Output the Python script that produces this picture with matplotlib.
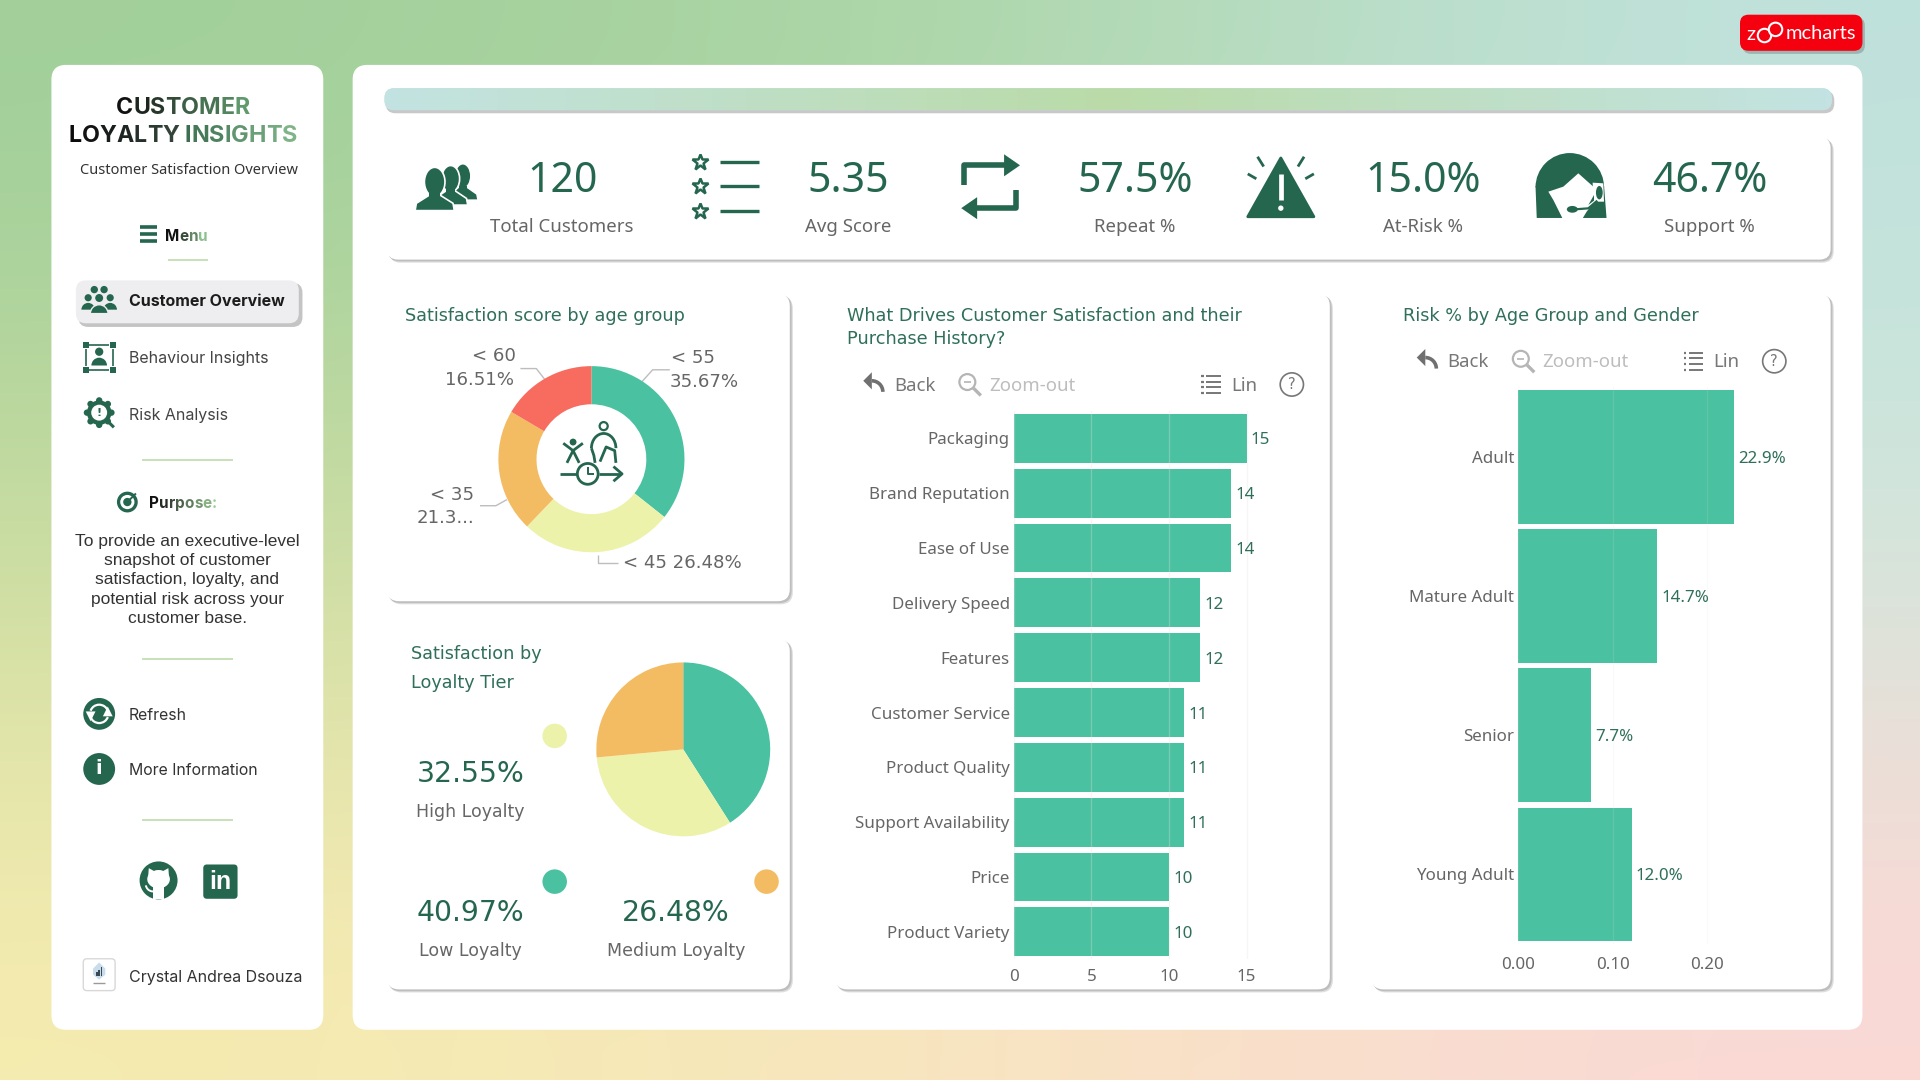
import numpy as np
import matplotlib
matplotlib.use("Agg")
import matplotlib.pyplot as plt
from matplotlib.patches import FancyBboxPatch, Circle, Ellipse, Polygon, Wedge, Rectangle, Arc
from matplotlib.colors import LinearSegmentedColormap, to_rgb

# chart values
age_groups = ["< 55", "< 45", "< 35", "< 60"]
age_scores = [35.67, 26.48, 21.34, 16.51]
loyalty_tiers = ["Low Loyalty", "High Loyalty", "Medium Loyalty"]
loyalty_scores = [40.97, 32.55, 26.48]
drivers = ["Packaging", "Brand Reputation", "Ease of Use", "Delivery Speed", "Features",
           "Customer Service", "Product Quality", "Support Availability", "Price", "Product Variety"]
driver_counts = [15, 14, 14, 12, 12, 11, 11, 11, 10, 10]
risk_groups = ["Adult", "Mature Adult", "Senior", "Young Adult"]
risk_share = [0.229, 0.147, 0.077, 0.120]
kpi_values = ["120", "5.35", "57.5%", "15.0%", "46.7%"]
kpi_labels = ["Total Customers", "Avg Score", "Repeat %", "At-Risk %", "Support %"]
purpose_lines = ["To provide an executive-level", "snapshot of customer", "satisfaction, loyalty, and",
                 "potential risk across your", "customer base."]

GREEN = "#4AC1A0"
YELLOW = "#EDF2AA"
ORANGE = "#F3BC63"
RED = "#F76C5E"
DK = "#25664F"
GREY = "#666666"
TITLE = "#2F6F5B"
W, H = 1568, 882  # layout is measured in these units, saved at 1920x1080

fig = plt.figure(figsize=(19.2, 10.8), dpi=100)
bg = fig.add_axes([0, 0, 1, 1], zorder=0)
bg.set_xlim(0, W)
bg.set_ylim(H, 0)
bg.axis("off")
rend = fig.canvas.get_renderer()


def axes_at(x0, y0, x1, y1):
    ax = fig.add_axes([x0 / W, 1 - y1 / H, (x1 - x0) / W, (y1 - y0) / H], zorder=2)
    ax.patch.set_alpha(0)
    return ax


def rbox(x0, y0, x1, y1, r=8, color="white", z=1, **kw):
    p = FancyBboxPatch((x0, y0), x1 - x0, y1 - y0, boxstyle=f"round,pad=0,rounding_size={r}",
                       fc=color, ec=kw.pop("ec", "none"), zorder=z, **kw)
    bg.add_patch(p)
    return p


def card(x0, y0, x1, y1, r=10):
    rbox(x0 + 2, y0 + 2, x1 + 2.5, y1 + 2.5, r, "#DEDEDE", 2)
    rbox(x0 + 1, y0 + 1, x1 + 1.5, y1 + 1.5, r, "#BEBEBE", 2)
    rbox(x0, y0, x1, y1, r, "white", 2.1)


def txt(x, y, s, size=11, color=GREY, ha="center", family="DejaVu Sans", weight="normal", z=5):
    return bg.text(x, y + 1, s, fontsize=size, color=color, ha=ha, va="center",
                   family=family, weight=weight, zorder=z)


def grad_text(x, y, s, size, c0, c1, family="Inter", weight="bold"):
    # one text per letter so the colour can run along the word
    c0, c1 = np.array(to_rgb(c0)), np.array(to_rgb(c1))
    for i, ch in enumerate(s):
        pre = s[:i]
        dx = 0
        if pre:
            t = txt(0, 0, pre, size, family=family, weight=weight)
            dx = t.get_window_extent(rend).width * W / 1920
            t.remove()
        f = i / max(len(s) - 1, 1)
        txt(x + dx, y, ch, size, c0 + (c1 - c0) * f, "left", family, weight)


def line(xs, ys, color=DK, lw=2, z=5, **kw):
    bg.plot(xs, ys, color=color, lw=lw, zorder=z, solid_capstyle=kw.pop("cap", "butt"), **kw)


def poly(pts, color=DK, z=5, **kw):
    bg.add_patch(Polygon(pts, closed=True, fc=color, ec=kw.pop("ec", "none"), zorder=z, **kw))


def circ(x, y, r, color=DK, z=5, **kw):
    bg.add_patch(Circle((x, y), r, fc=color, ec=kw.pop("ec", "none"), zorder=z, **kw))


def person(x, y, s=1.0, z=5, color=DK, ec="none"):
    circ(x, y - 9 * s, 4.5 * s, color, z, lw=1, ec=ec)
    bg.add_patch(Wedge((x, y + 6 * s), 8.5 * s, 180, 360, fc=color, ec=ec, lw=1, zorder=z))


def bust(cx, top, bottom, hw, z):
    # head and shoulders with a white rim, for the customers icon
    h = bottom - top
    poly([(cx - hw, bottom), (cx - hw + 1, bottom - 0.17 * h), (cx - 0.28 * hw, bottom - 0.36 * h),
          (cx + 0.28 * hw, bottom - 0.36 * h), (cx + hw - 1, bottom - 0.17 * h), (cx + hw, bottom)],
         DK, z, ec="white", lw=1.2, joinstyle="round")
    bg.add_patch(Ellipse((cx, top + 0.33 * h), 1.05 * hw, 0.68 * h, fc=DK, ec="white", lw=1.2, zorder=z + 0.01))
    bg.add_patch(Rectangle((cx - 0.28 * hw, bottom - 0.4 * h), 0.56 * hw, 0.12 * h, fc=DK, zorder=z + 0.02))


# background
corners = np.array([[[160, 207, 154], [172, 214, 165], [192, 226, 222]],
                    [[200, 220, 160], [214, 226, 178], [210, 232, 222]],
                    [[246, 236, 176], [250, 230, 192], [252, 216, 214]]], dtype=float) / 255
bg.imshow(corners, extent=(0, W, H, 0), aspect="auto", interpolation="bicubic", zorder=0)
bg.set_xlim(0, W)
bg.set_ylim(H, 0)

rbox(42, 53, 264, 841, 12)
rbox(288, 53, 1521, 841, 12)

# logo
rbox(1423, 14, 1523, 44, 7, "#9DB5B2", 3)
rbox(1421, 12, 1521, 41.5, 7, "#F5000F", 3.1)
txt(1426, 27, "z", 14.5, "white", "left", "Lato", z=4)
circ(1441, 29, 5.5, "#F5000F", 4, ec="white", lw=1.5)
circ(1450, 24, 5.5, "#F5000F", 4, ec="white", lw=1.5)
txt(1458, 26, "mcharts", 14.5, "white", "left", "Lato", z=4)

# sidebar
grad_text(95, 87, "CUSTOMER", 16.7, "#111111", "#5E9A6C")
grad_text(56, 110, "LOYALTY", 16.7, "#0B0B0B", "#33433A")
grad_text(151, 110, "INSIGHTS", 16.9, "#3B6F50", "#7FB388")
txt(154, 138, "Customer Satisfaction Overview", 10.5, "#333333", family="Noto Sans")
for yy in (185.5, 191, 196.5):
    line([114, 128], [yy, yy], lw=2.6)
grad_text(135, 192, "Menu", 11, "#111111", "#8CC08E")
line([137, 170], [212, 212], "#BFDBAC", 1.2)
rbox(64, 231, 247, 267, 8, "#C4C4C4", 3)
rbox(62, 229, 244, 264, 8, "#EEEEF0", 3.1)
txt(105, 245, "Customer Overview", 11.5, "#1C1C1C", "left", "Inter", "bold")
txt(105, 292, "Behaviour Insights", 11.5, "#444444", "left", "Inter")
txt(105, 338, "Risk Analysis", 11.5, "#444444", "left", "Inter")
circ(77, 236.5, 3)
circ(85, 236.5, 3)
person(72, 249, 0.65)
person(90, 249, 0.65)
person(81, 251, 0.85, 6, DK, "#EEEEF0")
# behaviour icon
person(81, 294, 0.75)
for x0, y0 in ((70, 282), (92, 282), (70, 302), (92, 302)):
    bg.add_patch(Rectangle((x0 - 2.5, y0 - 2.5), 5, 5, fc=DK, zorder=5))
line([73, 89], [282, 282], lw=1.2)
line([73, 89], [302, 302], lw=1.2)
line([70, 70], [285, 299], lw=1.2)
line([92, 92], [285, 299], lw=1.2)
# risk icon
for a in np.arange(0, 360, 45):
    circ(81 + 10 * np.cos(np.radians(a)), 337 + 10 * np.sin(np.radians(a)), 2.6)
circ(81, 337, 10)
circ(81, 337, 6.5, "white", 6)
txt(81, 336, "!", 8, DK, weight="bold", z=7)
line([87, 93], [343, 349], lw=2.2, z=7)
line([116, 190], [376, 376], "#BFDBAC", 1.2)
circ(104, 410, 8.5)
circ(104, 410, 5.8, "white", 6)
circ(104, 410, 3.4, DK, 7)
line([104, 111], [410, 403], lw=1.4, z=8)
grad_text(122, 410, "Purpose:", 11, "#111111", "#9CCB96")
for i, s in enumerate(purpose_lines):
    txt(153, 441 + i * 15.75, s, 12.5, "#333333", family="Liberation Sans")
line([116, 190], [538, 538], "#BFDBAC", 1.2)
circ(81, 583, 13)
bg.add_patch(Arc((81, 583), 15, 15, theta1=200, theta2=340, ec="white", lw=1.6, zorder=6))
bg.add_patch(Arc((81, 583), 15, 15, theta1=20, theta2=160, ec="white", lw=1.6, zorder=6))
poly([(88, 577), (92, 585), (84, 585)], "white", 6)
poly([(74, 589), (70, 581), (78, 581)], "white", 6)
txt(105, 583, "Refresh", 11.4, "#333333", "left", "Inter")
circ(81, 628, 13)
txt(81, 627, "i", 14, "white", weight="bold", z=6)
txt(105, 628, "More Information", 11.4, "#333333", "left", "Inter")
line([116, 190], [670, 670], "#BFDBAC", 1.2)
# github and linkedin
circ(129.5, 719, 15.5)
bg.add_patch(Ellipse((129.5, 718), 18.5, 15, fc="white", zorder=6))
poly([(121, 716), (121.5, 709), (127, 712)], "white", 6)
poly([(138, 716), (137.5, 709), (132, 712)], "white", 6)
bg.add_patch(Rectangle((125, 722), 9, 12.4, fc="white", zorder=6))
bg.add_patch(Arc((125, 722), 12, 12, theta1=30, theta2=170, ec="white", lw=1.4, zorder=6, angle=0))
rbox(166, 706, 194, 734, 3, DK, 5)
txt(180, 719, "in", 18, "white", family="Liberation Sans", weight="bold", z=6)
rbox(68, 783, 94, 809, 3, "white", 5, ec="#D8D8D8", lw=1)
poly([(81, 786), (86, 791), (86, 796), (81, 800), (76, 796), (76, 791)], "#C9DCEC", 6)
for bx, bh in ((79, 3), (81, 5), (83, 7)):
    bg.add_patch(Rectangle((bx - 0.7, 797 - bh), 1.4, bh, fc="#3A4A55", zorder=7))
line([76, 86], [803, 803], "#9A9A9A", 1, 6)
txt(105, 797, "Crystal Andrea Dsouza", 11.5, "#333333", "left", "Inter")

# top strip
strip = LinearSegmentedColormap.from_list("strip", ["#C3E3E2", "#BADBA8", "#C3E3E2"])
rbox(315, 74, 1498, 92.5, 8, "#C8C8C8", 2)
clip = rbox(314, 72, 1496, 90, 8, "#C3E3E2", 2.1)
im = bg.imshow(np.linspace(0, 1, 256).reshape(1, -1), cmap=strip, extent=(314, 1496, 90, 72),
               aspect="auto", zorder=2.2)
im.set_clip_path(clip)
bg.set_xlim(0, W)
bg.set_ylim(H, 0)

# kpi strip
card(316, 112, 1495, 212, 9)
value_x = [459, 693, 927, 1162, 1396]
for x, v, l in zip(value_x, kpi_values, kpi_labels):
    txt(x, 147, v, 29.5, DK, family="Noto Sans")
    txt(x, 184, l, 13.4, GREY, family="Noto Sans")
# customers icon
bust(378, 134, 163.5, 12.5, 5)
bust(368, 135.5, 167.5, 14, 5.1)
bust(355, 137, 172, 16, 5.2)
# stars icon
for yy in (132, 152, 172):
    bg.plot([572], [yy], marker="*", ms=12, mfc="white", mec=DK, mew=1.8, zorder=5)
    line([588, 620], [yy, yy], lw=2.4)
# repeat icon
line([787, 787, 822], [151, 135, 135], lw=4)
poly([(820, 126), (833, 135), (820, 144)])
line([830, 830, 797], [155, 170, 170], lw=4)
poly([(798, 161), (785, 170), (798, 179)])
# warning icon
poly([(1046, 129), (1073, 177), (1019, 177)], DK, ec=DK, lw=2, joinstyle="round")
line([1046, 1046], [142, 163], "white", 3.4, 6)
circ(1046, 170, 2.2, "white", 6)
for x0, y0, x1, y1 in ((1032, 136, 1027, 128), (1060, 136, 1065, 128), (1026, 146, 1019, 142), (1066, 146, 1073, 142)):
    line([x0, x1], [y0, y1], lw=2)


# support icon, outline measured on a 3x crop of the target
def sup(px, py):
    return ((1520 + px / 3) / 1.2245, (140 + py / 3) / 1.2245)


bg.add_patch(Wedge((1282, 153), 28, 180, 360, fc=DK, zorder=5))
poly([(1254, 152), (1310, 152), (1312, 178), (1255, 178)], DK)
poly([sup(*p) for p in ((85, 155), (130, 140), (175, 100), (220, 140), (228, 180), (200, 215), (185, 240), (130, 240), (100, 180))], "white", 6)
poly([sup(*p) for p in ((218, 128), (250, 130), (252, 185), (220, 185))], "white", 6.2)
bg.add_patch(Ellipse(sup(238, 158), 5.5, 11, fc=DK, zorder=6.5))
line(*zip(sup(232, 182), sup(205, 205), sup(165, 208)), lw=1.6, z=6.5)
bg.add_patch(Ellipse(sup(157, 208), 9, 5.5, fc=DK, zorder=6.5))
poly([sup(*p) for p in ((205, 195), (222, 165), (222, 182))], DK, 6.4)

# cards
card(316, 240, 645, 491)
card(316, 522, 645, 808)
card(682, 240, 1086, 808)
card(1120, 240, 1495, 808)
txt(331, 257, "Satisfaction score by age group", 12.7, TITLE, "left")
txt(336, 533, "Satisfaction by", 12.7, TITLE, "left")
txt(336, 557, "Loyalty Tier", 12.7, TITLE, "left")
txt(692, 257, "What Drives Customer Satisfaction and their", 12.7, TITLE, "left")
txt(692, 276, "Purchase History?", 12.7, TITLE, "left")
txt(1146, 257, "Risk % by Age Group and Gender", 12.7, TITLE, "left")

# donut
ax = axes_at(483 - 80, 375 - 80, 483 + 80, 375 + 80)
ax.pie(age_scores, colors=[GREEN, YELLOW, ORANGE, RED], startangle=90, counterclock=False,
       radius=1, wedgeprops=dict(width=0.41))
ax.set_xlim(-80 / 76, 80 / 76)
ax.set_ylim(-80 / 76, 80 / 76)
txt(421, 290, "< 60", 13.1, ha="right")
txt(420, 309, f"{age_scores[3]:.2f}%", 13.1, ha="right")
txt(548, 291, age_groups[0], 13.1, ha="left")
txt(547, 311, f"{age_scores[0]:.2f}%", 13.1, ha="left")
txt(387, 403, "< 35", 13.1, ha="right")
txt(387, 422, "21.3...", 13.1, ha="right")
txt(509, 459, f"{age_groups[1]} {age_scores[1]:.2f}%", 13.1, ha="left")
for xs, ys in (([425, 438, 445], [301, 301, 310]), ([547, 533, 524], [302, 302, 312]),
               ([392, 405, 414], [413, 413, 408]), ([488, 488, 505], [453, 460, 460])):
    line(xs, ys, "#BDBDBD", 1)
# icon in the hole
circ(480, 387, 8.5, "white", 5, ec=DK, lw=2)
line([480, 480, 485], [381, 387, 387], lw=1.4)
line([457, 471], [387, 387], lw=2)
line([489, 507], [387, 387], lw=2)
line([501, 508, 501], [381, 387, 393], lw=2)
circ(468, 361, 2.8)
line([460, 468, 476], [362, 368, 362], lw=2)
line([463, 468, 473], [378, 368, 378], lw=2)
circ(493, 348, 3.3, "white", 5, ec=DK, lw=1.6)
bg.add_patch(Arc((493, 366), 20, 24, theta1=180, theta2=360, ec=DK, lw=2, zorder=5))
line([483, 485, 486], [366, 372, 378], lw=2)
line([490, 495, 502, 503], [377, 365, 368, 378], lw=2)

# pie
ax = axes_at(558 - 75, 612 - 75, 558 + 75, 612 + 75)
ax.pie(loyalty_scores, colors=[GREEN, YELLOW, ORANGE], startangle=90, counterclock=False, radius=1)
ax.set_xlim(-75 / 71, 75 / 71)
ax.set_ylim(-75 / 71, 75 / 71)
circ(453, 601, 10, YELLOW)
circ(453, 720, 10, GREEN)
circ(626, 720, 10, ORANGE)
txt(384, 631, f"{loyalty_scores[1]:.2f}%", 20.3, DK)
txt(384, 662, loyalty_tiers[1], 12.5, GREY)
txt(384, 745, f"{loyalty_scores[0]:.2f}%", 20.3, DK)
txt(384, 776, loyalty_tiers[0], 12.5, GREY)
txt(552, 745, f"{loyalty_scores[2]:.2f}%", 20.3, DK)
txt(552, 776, loyalty_tiers[2], 12.5, GREY)


def toolbar(x, y, list_x):
    # x is the back arrow, list_x the list icon, the help circle follows it
    poly([(x - 8, y - 3), (x - 1, y - 10), (x - 1, y + 4)], "#707070")
    bg.add_patch(Arc((x - 1, y + 6), 18, 18, theta1=270, theta2=360, ec="#707070", lw=2.6, zorder=5))
    txt(x + 34, y, "Back", 13.4, "#777777", family="Noto Sans")
    circ(x + 77, y - 2, 6.5, "white", 5, ec="#B5B5B5", lw=1.6)
    line([x + 82, x + 88], [y + 3, y + 9], "#B5B5B5", 2.4)
    line([x + 74, x + 80], [y - 2, y - 2], "#B5B5B5", 1.2)
    txt(x + 130, y, "Zoom-out", 13.4, "#BDBDBD", family="Noto Sans")
    for dy in (-7, -2.3, 2.3, 7):
        line([list_x - 8, list_x - 6], [y + dy, y + dy], "#777777", 1.6)
        line([list_x - 4, list_x + 8], [y + dy, y + dy], "#777777", 1.4)
    txt(list_x + 27, y, "Lin", 13.4, "#777777", family="Noto Sans")
    circ(list_x + 66, y, 9.5, "white", 5, ec="#777777", lw=1.2)
    txt(list_x + 66, y - 1, "?", 10.5, "#777777", z=6)


toolbar(713, 314, 989)
toolbar(1165, 295, 1383)


def style_bars(ax, n, grid_alpha, xpad):
    ax.set_ylim(n - 0.5, -0.5)
    ax.tick_params(length=0, labelsize=12.2, labelcolor=GREY, pad=3, labelfontfamily="Noto Sans")
    ax.tick_params(axis="x", pad=xpad)
    ax.grid(axis="x", color="#E3E3E3", alpha=grid_alpha, lw=1)
    ax.set_axisbelow(False)
    for s in ax.spines.values():
        s.set_visible(False)


# drivers bars
ax = axes_at(828, 335.6, 1030, 783.4)
bars = ax.barh(drivers, driver_counts, height=0.89, color=GREEN)
for t in ax.bar_label(bars, padding=3, fontsize=12.2, color=TITLE, family="Noto Sans"):
    t.set_va("center_baseline")
ax.set_xlim(0, 15 * 202 / 190)
ax.set_xticks([0, 5, 10, 15])
style_bars(ax, len(drivers), 0.3, 7)

# risk bars
ax = axes_at(1240, 316.3, 1470, 771)
bars = ax.barh(risk_groups, risk_share, height=0.96, color=GREEN)
for t in ax.bar_label(bars, labels=[f"{v * 100:.1f}%" for v in risk_share], padding=3, fontsize=12.2,
                      color=TITLE, family="Noto Sans"):
    t.set_va("center_baseline")
ax.set_xlim(0, 0.2 * 230 / 154)
ax.set_xticks([0, 0.1, 0.2], ["0.00", "0.10", "0.20"])
style_bars(ax, len(risk_groups), 0.15, 9)

fig.savefig("out.png", dpi=100)
